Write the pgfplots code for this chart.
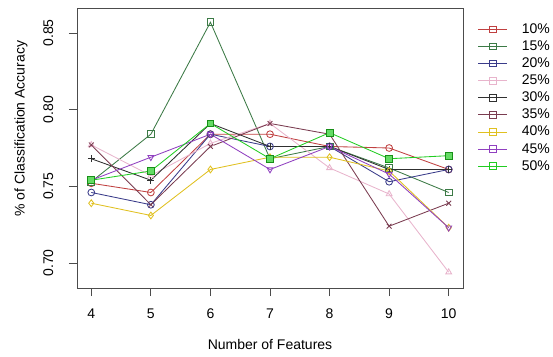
\documentclass[border=0pt]{standalone}
\usepackage{pgfplots}
\pgfplotsset{compat=1.18}
\usepackage{fontspec}
\setmainfont{Liberation Sans}
\definecolor{cA}{HTML}{C04040}
\definecolor{cB}{HTML}{3C7A46}
\definecolor{cC}{HTML}{3A3C8A}
\definecolor{cD}{HTML}{E8B4CC}
\definecolor{cE}{HTML}{303030}
\definecolor{cF}{HTML}{7A3C50}
\definecolor{cG}{HTML}{E0C020}
\definecolor{cH}{HTML}{9040C0}
\definecolor{cI}{HTML}{22CC22}
\newcommand{\legsp}[1]{\hspace*{13pt}#1}
\begin{document}
\begin{tikzpicture}
\path[use as bounding box] (-77pt,-68pt) rectangle (476pt,288pt);
\begin{axis}[
  at={(0,0)}, anchor=south west,
  scale only axis, width=386pt, height=280pt,
  xmin=3.76, xmax=10.24, ymin=0.6837, ymax=0.8663,
  xtick={4,5,6,7,8,9,10},
  ytick={0.70,0.75,0.80,0.85},
  xtick pos=left, ytick pos=left,
  tick align=outside, major tick length=8pt,
  axis line style={gray!60!black, line width=0.9pt},
  every tick/.style={gray!60!black, line width=0.9pt},
  font=\fontsize{14}{16}\selectfont,
  /pgf/number format/assume math mode=true,
  yticklabel style={/pgf/number format/fixed, /pgf/number format/fixed zerofill, /pgf/number format/precision=2, rotate=90, anchor=south},
  xticklabel shift=9pt,
  yticklabel shift=12pt,
  xlabel={Number of Features},
  xlabel style={at={(axis description cs:0.5,-0.2)}, anchor=center},
  ylabel={\% of Classification Accuracy},
  ylabel style={at={(axis description cs:-0.145,0.569)}, anchor=center},
  line width=0.85pt,
  every axis plot/.append style={mark size=3.4pt, mark options={solid, line width=0.85pt}},
  legend cell align=left,
  legend image code/.code={
    \draw[#1, mark=none] (0pt,0pt) -- (29pt,0pt);
    \draw[#1, mark=square, mark size=3.3pt, mark options={fill=white}] plot coordinates {(14.5pt,0pt)};
  },
  legend style={draw=none, fill=none, at={(rel axis cs:1.03,0.961)}, anchor=north west,
    nodes={inner sep=1pt, text height=11pt, text depth=3pt}, row sep=1.1pt,
    font=\fontsize{14}{16}\selectfont},
]
\addplot[cA, mark=o] coordinates {(4,0.752)(5,0.746)(6,0.784)(7,0.784)(8,0.776)(9,0.775)(10,0.761)};
\addplot[cB, mark=square] coordinates {(4,0.753)(5,0.784)(6,0.857)(7,0.768)(8,0.776)(9,0.762)(10,0.746)};
\addplot[cC, mark=o] coordinates {(4,0.746)(5,0.738)(6,0.784)(7,0.776)(8,0.776)(9,0.753)(10,0.761)};
\addplot[cD, mark=triangle] coordinates {(4,0.777)(5,0.757)(6,0.778)(7,0.791)(8,0.762)(9,0.745)(10,0.694)};
\addplot[cE, mark=+] coordinates {(4,0.768)(5,0.754)(6,0.791)(7,0.776)(8,0.776)(9,0.761)(10,0.761)};
\addplot[cF, mark=x] coordinates {(4,0.777)(5,0.738)(6,0.776)(7,0.791)(8,0.784)(9,0.724)(10,0.739)};
\addplot[cG, mark=diamond] coordinates {(4,0.739)(5,0.731)(6,0.761)(7,0.769)(8,0.769)(9,0.760)(10,0.723)};
\addplot[cH, mark=triangle, mark options={rotate=180}] coordinates {(4,0.754)(5,0.769)(6,0.784)(7,0.761)(8,0.776)(9,0.758)(10,0.723)};
\addplot[cI, mark=square*, mark options={fill=cI!70!white, draw=cI!70!black}] coordinates {(4,0.754)(5,0.760)(6,0.791)(7,0.768)(8,0.785)(9,0.768)(10,0.770)};
\legend{\legsp{10\%},\legsp{15\%},\legsp{20\%},\legsp{25\%},\legsp{30\%},\legsp{35\%},\legsp{40\%},\legsp{45\%},\legsp{50\%}}
\end{axis}
\end{tikzpicture}
\end{document}
